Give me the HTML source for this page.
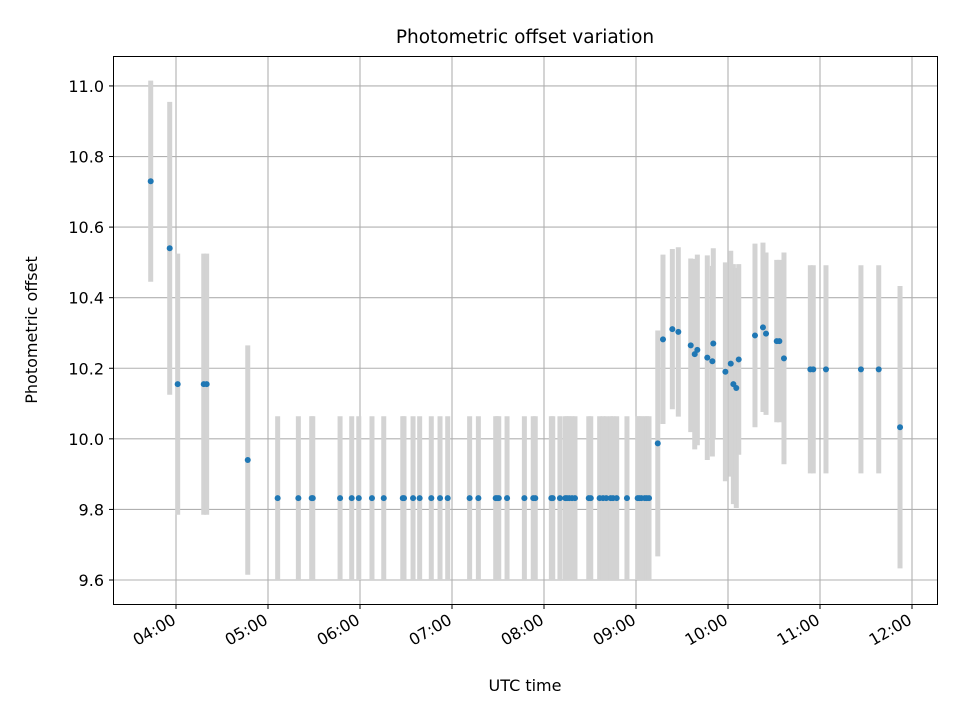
<!DOCTYPE html>
<html><head><meta charset="utf-8"><style>
body{margin:0;background:#fff;}
svg{display:block;font-family:"DejaVu Sans","Liberation Sans",sans-serif;}
</style></head><body>
<svg id="chart" width="960" height="720" viewBox="0 0 960 720">
<rect width="960" height="720" fill="#fff"/>
<g id="grid"></g>
<g id="errs"></g>
<g id="pts"></g>
<rect x="113.5" y="56.5" width="824" height="548" fill="none" stroke="#000" stroke-width="1"/>
<g id="axes"></g>
<text x="525" y="43" text-anchor="middle" font-size="18.5px" fill="#000">Photometric offset variation</text>
<text x="525" y="691" text-anchor="middle" font-size="16px" fill="#000">UTC time</text>
<text transform="translate(37,330) rotate(-90)" text-anchor="middle" font-size="16px" fill="#000">Photometric offset</text>
</svg>
<script>
const times=[223.5,235.9,241.1,258.1,260.0,286.8,
306.3,319.8,328.5,329.2,347.0,354.6,359.2,367.8,375.5,387.9,388.7,394.6,398.9,406.5,412.2,417.2,431.5,437.2,448.5,449.4,450.5,455.9,467.2,473.0,474.3,484.8,485.7,490.4,493.9,495.0,496.5,498.3,500.2,509.2,510.5,516.3,518.5,520.6,523.5,525.0,527.4,534.1,541.1,542.2,543.5,545.7,547.0,548.5,
554.2,557.6,563.7,567.6,575.7,578.3,580.0,586.5,589.8,590.4,598.3,601.8,603.5,605.4,607.0,617.6,622.8,624.8,631.8,633.5,636.5,653.7,655.6,663.9,686.7,698.3,712.2];
const values=[10.73,10.54,10.155,10.155,10.155,9.94,
9.832,9.832,9.832,9.832,9.832,9.832,9.832,9.832,9.832,9.832,9.832,9.832,9.832,9.832,9.832,9.832,9.832,9.832,9.832,9.832,9.832,9.832,9.832,9.832,9.832,9.832,9.832,9.832,9.832,9.832,9.832,9.832,9.832,9.832,9.832,9.832,9.832,9.832,9.832,9.832,9.832,9.832,9.832,9.832,9.832,9.832,9.832,9.832,
9.987,10.282,10.311,10.303,10.265,10.24,10.252,10.23,10.22,10.27,10.19,10.213,10.155,10.144,10.225,10.293,10.316,10.298,10.277,10.277,10.228,10.197,10.197,10.197,10.197,10.197,10.033];
const errors=[0.285,0.415,0.37,0.37,0.37,0.325,
0.232,0.232,0.232,0.232,0.232,0.232,0.232,0.232,0.232,0.232,0.232,0.232,0.232,0.232,0.232,0.232,0.232,0.232,0.232,0.232,0.232,0.232,0.232,0.232,0.232,0.232,0.232,0.232,0.232,0.232,0.232,0.232,0.232,0.232,0.232,0.232,0.232,0.232,0.232,0.232,0.232,0.232,0.232,0.232,0.232,0.232,0.232,0.232,
0.32,0.24,0.227,0.24,0.246,0.27,0.27,0.29,0.27,0.27,0.31,0.32,0.34,0.34,0.27,0.26,0.24,0.23,0.23,0.23,0.30,0.295,0.295,0.295,0.295,0.295,0.40];
const yTicks=[9.6,9.8,10.0,10.2,10.4,10.6,10.8,11.0];
const xTickLabels=["04:00","05:00","06:00","07:00","08:00","09:00","10:00","11:00","12:00"];
const xTickMinutes=[240,300,360,420,480,540,600,660,720];

const NS="http://www.w3.org/2000/svg";
function X(m){return 176+(m-240)*(92/60);}
function Y(v){return 580-(v-9.6)*352.9;}
function mk(tag,attrs,parent){const e=document.createElementNS(NS,tag);for(const k in attrs)e.setAttribute(k,attrs[k]);parent.appendChild(e);return e;}
const grid=document.getElementById('grid'),axes=document.getElementById('axes'),errs=document.getElementById('errs'),pts=document.getElementById('pts');
yTicks.forEach(v=>{
  const y=Y(v);
  const g=mk('line',{x1:113.5,x2:937.5,y1:y,y2:y,stroke:'#b0b0b0','stroke-width':1.1},grid);
  
  
  const t=mk('line',{x1:109,x2:113.5,y1:y,y2:y,stroke:'#000','stroke-width':1},axes);
  
  
  const l=mk('text',{x:104,y:y+6,'text-anchor':'end','font-size':'16px',fill:'#000'},axes);
  l.textContent=v.toFixed(1);
  
  
});
xTickMinutes.forEach((m,i)=>{
  const x=X(m);
  const g=mk('line',{x1:x,x2:x,y1:56.5,y2:604.5,stroke:'#b0b0b0','stroke-width':1.1},grid);
  
  
  const t=mk('line',{x1:x,x2:x,y1:604.5,y2:609,stroke:'#000','stroke-width':1},axes);
  
  
  const l=mk('text',{x:x+1,y:623,'text-anchor':'end','font-size':'16px',fill:'#000',transform:`rotate(-30 ${x+1} 623)`},axes);
  l.textContent=xTickLabels[i];
  
  
});
times.forEach((m,i)=>{
  const x=X(m);
  const e=mk('line',{x1:x,x2:x,y1:Y(values[i]-errors[i]),y2:Y(values[i]+errors[i]),stroke:'#d3d3d3','stroke-width':5},errs);
  
  
});
times.forEach((m,i)=>{
  const p=mk('circle',{cx:X(m),cy:Y(values[i]),r:3,fill:'#1f77b4'},pts);
  
  
});
</script>
</body></html>
